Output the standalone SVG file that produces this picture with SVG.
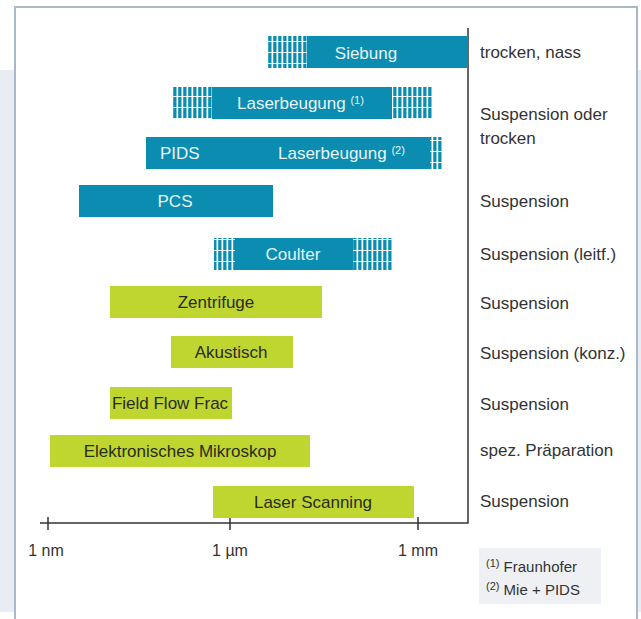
<svg xmlns="http://www.w3.org/2000/svg" width="641" height="619" viewBox="0 0 641 619">
<defs>
<pattern id="hatch" patternUnits="userSpaceOnUse" x="0" y="0" width="5" height="11">
<rect x="1.5" y="0" width="1.7" height="11" fill="#ffffff"/>
<rect x="0" y="8" width="5" height="0.9" fill="#ffffff"/>
</pattern>
<style>
.teal{fill:#0a8db0}
.green{fill:#bed62f}
.hatch{fill:url(#hatch)}
.lt{font-family:"Liberation Sans",Arial,sans-serif;font-size:17px;fill:#e8f4f8}
.dt{font-family:"Liberation Sans",Arial,sans-serif;font-size:17px;fill:#2b2b1e}
.sup{font-family:"Liberation Sans",Arial,sans-serif;font-size:11px}
.rl{font-family:"Liberation Sans",Arial,sans-serif;font-size:17px;fill:#333333}
.tk{font-family:"Liberation Sans",Arial,sans-serif;font-size:16px;fill:#333333;text-anchor:middle}
.fn{font-family:"Liberation Sans",Arial,sans-serif;font-size:15px;fill:#333333}
.ax{stroke:#333333;stroke-width:1.5;fill:none}
</style>
</defs>
<rect x="0" y="0" width="641" height="619" fill="#ffffff"/>
<g id="frame">
<rect x="0" y="70" width="14" height="542" fill="#e9edf3"/>
<rect x="638" y="70" width="3" height="542" fill="#e9edf3"/>
<rect x="15" y="7" width="622" height="630" fill="#ffffff" stroke="#aab8cc" stroke-width="2"/>
</g>
<g id="connectors">
<path class="ax" d="M468 28 V523 H40"/>
<path class="ax" d="M48 517 V530 M230 517 V530 M418 517 V530"/>
</g>
<g id="axis-labels">
<text class="tk" x="46" y="556">1 nm</text>
<text class="tk" x="230" y="556">1 µm</text>
<text class="tk" x="418" y="556">1 mm</text>
</g>
<g id="siebung">
<rect class="teal" x="267" y="36" width="201" height="32"/>
<rect class="hatch" x="267" y="36" width="40" height="32"/>
<text class="lt" x="366" y="59" text-anchor="middle">Siebung</text>
</g>
<g id="laserbeugung1">
<rect class="teal" x="172" y="87" width="261" height="32"/>
<rect class="hatch" x="172" y="87" width="40" height="32"/>
<rect class="hatch" x="392" y="87" width="41" height="32"/>
<text class="lt" x="237" y="109">Laserbeugung <tspan class="sup" dy="-5">(1)</tspan></text>
</g>
<g id="pids">
<rect class="teal" x="146" y="137" width="297" height="32"/>
<rect class="hatch" x="430" y="137" width="13" height="32"/>
<text class="lt" x="160" y="159">PIDS</text>
<text class="lt" x="278" y="159">Laserbeugung <tspan class="sup" dy="-5">(2)</tspan></text>
</g>
<g id="pcs">
<rect class="teal" x="79" y="185" width="194" height="32"/>
<text class="lt" x="175" y="207" text-anchor="middle">PCS</text>
</g>
<g id="coulter">
<rect class="teal" x="214" y="238" width="179" height="32"/>
<rect class="hatch" x="214" y="238" width="21" height="32"/>
<rect class="hatch" x="353" y="238" width="40" height="32"/>
<text class="lt" x="293" y="260" text-anchor="middle">Coulter</text>
</g>
<g id="zentrifuge">
<rect class="green" x="110" y="286" width="212" height="32"/>
<text class="dt" x="216" y="308" text-anchor="middle">Zentrifuge</text>
</g>
<g id="akustisch">
<rect class="green" x="171" y="336" width="122" height="32"/>
<text class="dt" x="231" y="358" text-anchor="middle">Akustisch</text>
</g>
<g id="fff">
<rect class="green" x="110" y="387" width="122" height="32"/>
<text class="dt" x="170" y="409" text-anchor="middle">Field Flow Frac</text>
</g>
<g id="em">
<rect class="green" x="50" y="435" width="260" height="32"/>
<text class="dt" x="180" y="457" text-anchor="middle">Elektronisches Mikroskop</text>
</g>
<g id="laserscanning">
<rect class="green" x="213" y="486" width="201" height="32"/>
<text class="dt" x="313" y="508" text-anchor="middle">Laser Scanning</text>
</g>
<g id="right-labels">
<text class="rl" x="480" y="58">trocken, nass</text>
<text class="rl" x="480" y="120">Suspension oder</text>
<text class="rl" x="480" y="144">trocken</text>
<text class="rl" x="480" y="207">Suspension</text>
<text class="rl" x="480" y="260">Suspension (leitf.)</text>
<text class="rl" x="480" y="309">Suspension</text>
<text class="rl" x="480" y="359">Suspension (konz.)</text>
<text class="rl" x="480" y="410">Suspension</text>
<text class="rl" x="480" y="456">spez. Präparation</text>
<text class="rl" x="480" y="507">Suspension</text>
</g>
<g id="footnote">
<rect x="479" y="548" width="122" height="56" fill="#eef0f3"/>
<text class="fn" x="486" y="572"><tspan class="sup" dy="-5">(1)</tspan><tspan dy="5"> Fraunhofer</tspan></text>
<text class="fn" x="486" y="595"><tspan class="sup" dy="-5">(2)</tspan><tspan dy="5"> Mie + PIDS</tspan></text>
</g>
</svg>
